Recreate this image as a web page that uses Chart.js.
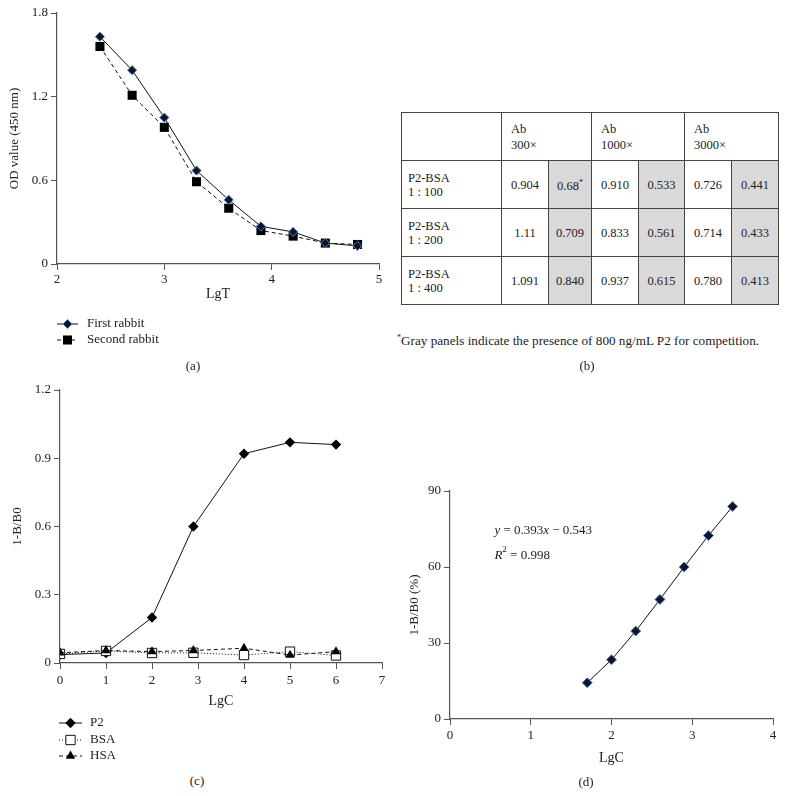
<!DOCTYPE html>
<html>
<head>
<meta charset="utf-8">
<script src="https://cdn.jsdelivr.net/npm/chart.js@4/dist/chart.umd.min.js"></script>
<style>
  body { margin: 0; background: #fff; width: 786px; height: 796px; position: relative; overflow: hidden;
         font-family: "Liberation Serif", "DejaVu Serif", serif; color: #222; }
  canvas { position: absolute; }
  .cap { position: absolute; font-size: 13px; transform: translate(-50%, -50%); white-space: nowrap; }
  #tbl { position: absolute; left: 401px; top: 112px; border-collapse: collapse; table-layout: fixed; font-size: 12.5px; }
  #tbl td { border: 1px solid #444; height: 47px; padding: 0; text-align: center; vertical-align: middle; line-height: 14px; }
  #tbl td.hd { text-align: left; padding-left: 9px; line-height: 16px; }
  #tbl td.rl { text-align: left; padding-left: 6px; }
  #tbl td.gray { background: #d9d9d9; }
  #note { position: absolute; left: 397px; top: 333px; font-size: 13.2px; white-space: nowrap; }
  sup { font-size: 8px; }
</style>
</head>
<body>
<canvas id="chartA" width="390" height="360" style="left:0;top:0"></canvas>
<canvas id="chartC" width="390" height="395" style="left:0;top:375px"></canvas>
<canvas id="chartD" width="396" height="305" style="left:390px;top:470px"></canvas>
<table id="tbl"></table>
<div id="note"><sup>*</sup>Gray panels indicate the presence of 800 ng/mL P2 for competition.</div>
<div class="cap" style="left:193px;top:366px">(a)</div>
<div class="cap" style="left:587px;top:366px">(b)</div>
<div class="cap" style="left:197px;top:781px">(c)</div>
<div class="cap" style="left:586px;top:782px">(d)</div>
<script>
// (a) titer curves
const lgT = [2.4, 2.7, 3.0, 3.3, 3.6, 3.9, 4.2, 4.5, 4.8];
const firstRabbit = [1.63, 1.39, 1.05, 0.67, 0.46, 0.27, 0.23, 0.15, 0.13];
const secondRabbit = [1.56, 1.21, 0.98, 0.59, 0.40, 0.24, 0.20, 0.15, 0.14];

// (c) specificity
const lgC = [0, 1, 2, 2.9, 4, 5, 6];
const p2 = [0.037, 0.044, 0.20, 0.60, 0.92, 0.97, 0.96];
const bsa = [0.04, 0.053, 0.044, 0.045, 0.035, 0.05, 0.033];
const hsa = [0.045, 0.055, 0.05, 0.055, 0.065, 0.035, 0.05];

// (d) standard curve
const stdLgC = [1.7, 2.0, 2.3, 2.6, 2.9, 3.2, 3.5];
const stdInhib = [14.3, 23.4, 34.7, 47.2, 60.0, 72.4, 83.9];

// (b) table
const abDilutions = ['300×', '1000×', '3000×'];
const coatRatios = ['1 : 100', '1 : 200', '1 : 400'];
const tableVals = [
  ['0.904', '0.68*', '0.910', '0.533', '0.726', '0.441'],
  ['1.11', '0.709', '0.833', '0.561', '0.714', '0.433'],
  ['1.091', '0.840', '0.937', '0.615', '0.780', '0.413'],
];

const FONT = '"Liberation Serif", "DejaVu Serif", serif';
const axisColor = '#555';
const diamondFill = '#0b1530';
const diamondEdge = '#5a7fb5';

function buildTable() {
  const widths = [100, 47, 43, 47, 46, 47, 47];
  let html = '<colgroup>' + widths.map(w => `<col style="width:${w}px">`).join('') + '</colgroup>';
  html += '<tr><td></td>' + abDilutions.map(d => `<td class="hd" colspan="2">Ab<br>${d}</td>`).join('') + '</tr>';
  tableVals.forEach((row, i) => {
    html += `<tr><td class="rl">P2-BSA<br>${coatRatios[i]}</td>`;
    row.forEach((v, j) => {
      const txt = v.replace('*', '<sup>*</sup>');
      html += `<td class="${j % 2 ? 'gray' : ''}">${txt}</td>`;
    });
    html += '</tr>';
  });
  document.getElementById('tbl').innerHTML = html;
}
buildTable();

const pts = (xs, ys) => xs.map((x, i) => ({ x, y: ys[i] }));

function xAxis(min, max, height, tickPad, titlePad, title) {
  return {
    type: 'linear', min, max,
    afterFit: (s) => { s.height = height; },
    ticks: { stepSize: 1, color: '#222', font: { family: FONT, size: 13 }, padding: tickPad },
    grid: { drawOnChartArea: false, tickLength: 6, color: axisColor, tickColor: axisColor },
    border: { color: axisColor, width: 1.2 },
    title: { display: true, text: title, color: '#222', font: { family: FONT, size: 14 }, padding: { top: 0, bottom: titlePad } },
  };
}

function yAxis(min, max, step, width, titlePad, title) {
  return {
    type: 'linear', min, max,
    afterFit: (s) => { s.width = width; },
    ticks: { stepSize: step, color: '#222', font: { family: FONT, size: 13 }, padding: 3,
             callback: (v) => String(Math.round(v * 10) / 10) },
    grid: { drawOnChartArea: false, tickLength: 6, color: axisColor, tickColor: axisColor },
    border: { color: axisColor, width: 1.2 },
    title: { display: true, text: title, color: '#222', font: { family: FONT, size: 13 }, padding: { top: titlePad, bottom: 0 } },
  };
}

// legend with a short line and marker, like the figure
const lineLegend = {
  id: 'lineLegend',
  afterDraw(chart, args, opts) {
    if (!opts.rows) return;
    const ctx = chart.ctx;
    chart.data.datasets.forEach((ds, i) => {
      const y = opts.rows[i];
      ctx.save();
      ctx.strokeStyle = '#111';
      ctx.lineWidth = 1;
      ctx.setLineDash(ds.borderDash || []);
      ctx.beginPath();
      ctx.moveTo(opts.x, y);
      ctx.lineTo(opts.x + opts.w, y);
      ctx.stroke();
      ctx.setLineDash([]);
      ctx.fillStyle = ds.pointBackgroundColor;
      ctx.strokeStyle = ds.pointBorderColor;
      ctx.lineWidth = ds.pointBorderWidth;
      Chart.helpers.drawPoint(ctx, { pointStyle: ds.pointStyle, radius: ds.pointRadius, rotation: 0, borderWidth: ds.pointBorderWidth },
        opts.x + opts.w / 2, y);
      ctx.fillStyle = '#222';
      ctx.font = '13px ' + FONT;
      ctx.textBaseline = 'middle';
      ctx.fillText(ds.label, opts.textX, y);
      ctx.restore();
    });
  }
};

// regression equation on panel (d)
const equation = {
  id: 'equation',
  afterDraw(chart, args, opts) {
    if (!opts.at) return;
    const ctx = chart.ctx;
    const x0 = chart.scales.x.getPixelForValue(opts.at[0]);
    const y1 = chart.scales.y.getPixelForValue(opts.at[1]);
    const y2 = chart.scales.y.getPixelForValue(opts.at[2]);
    const normal = '13px ' + FONT, italic = 'italic 13px ' + FONT;
    ctx.save();
    ctx.fillStyle = '#222';
    ctx.textBaseline = 'middle';
    const runs = (parts, y) => {
      let x = x0;
      parts.forEach(([t, f, dy]) => {
        ctx.font = f;
        ctx.fillText(t, x, y + (dy || 0));
        x += ctx.measureText(t).width;
      });
    };
    runs([['y', italic], [' = 0.393', normal], ['x', italic], [' − 0.543', normal]], y1);
    runs([['R', italic], ['2', '9px ' + FONT, -5], [' = 0.998', normal]], y2);
    ctx.restore();
  }
};

Chart.register(lineLegend, equation);

const common = {
  responsive: false,
  animation: false,
  events: [],
};

new Chart(document.getElementById('chartA'), {
  type: 'scatter',
  data: {
    datasets: [
      { label: 'First rabbit', data: pts(lgT, firstRabbit), showLine: true, borderColor: '#111', borderWidth: 1,
        pointStyle: 'rectRot', pointRadius: 4.6, pointBackgroundColor: diamondFill, pointBorderColor: diamondEdge, pointBorderWidth: 1 },
      { label: 'Second rabbit', data: pts(lgT, secondRabbit), showLine: true, borderColor: '#111', borderWidth: 1, borderDash: [4, 3],
        pointStyle: 'rect', pointRadius: 6.4, pointBackgroundColor: '#000', pointBorderColor: '#000', pointBorderWidth: 0 },
    ]
  },
  options: {
    ...common,
    layout: { padding: { left: 0, right: 11, top: 13, bottom: 54 } },
    scales: {
      x: xAxis(2, 5, 42, 2, 3, 'LgT'),
      y: yAxis(0, 1.8, 0.6, 57, 7, 'OD value (450 nm)'),
    },
    plugins: { legend: { display: false }, tooltip: { enabled: false },
               lineLegend: { x: 57, w: 21, textX: 87, rows: [324, 340] } },
  }
});

new Chart(document.getElementById('chartC'), {
  type: 'scatter',
  data: {
    datasets: [
      { label: 'P2', data: pts(lgC, p2), showLine: true, borderColor: '#111', borderWidth: 1, order: 3,
        pointStyle: 'rectRot', pointRadius: 5.2, pointBackgroundColor: '#000', pointBorderColor: '#000', pointBorderWidth: 0 },
      { label: 'BSA', data: pts(lgC, bsa), showLine: true, borderColor: '#111', borderWidth: 1, borderDash: [1, 2], order: 2,
        pointStyle: 'rect', pointRadius: 6.6, pointBackgroundColor: '#fff', pointBorderColor: '#111', pointBorderWidth: 1 },
      { label: 'HSA', data: pts(lgC, hsa), showLine: true, borderColor: '#111', borderWidth: 1, borderDash: [4, 3], order: 1,
        pointStyle: 'triangle', pointRadius: 5.4, pointBackgroundColor: '#000', pointBorderColor: '#000', pointBorderWidth: 0 },
    ]
  },
  options: {
    ...common,
    layout: { padding: { left: 0, right: 8, top: 15, bottom: 59 } },
    scales: {
      x: xAxis(0, 7, 48, 4, 1.5, 'LgC'),
      y: yAxis(0, 1.2, 0.3, 60, 10, '1-B/B0'),
    },
    plugins: { legend: { display: false }, tooltip: { enabled: false },
               lineLegend: { x: 59, w: 23, textX: 90, rows: [348, 365, 381] } },
  }
});

new Chart(document.getElementById('chartD'), {
  type: 'scatter',
  data: {
    datasets: [
      { label: 'Standard', data: pts(stdLgC, stdInhib), showLine: true, borderColor: '#111', borderWidth: 1,
        pointStyle: 'rectRot', pointRadius: 5, pointBackgroundColor: diamondFill, pointBorderColor: diamondEdge, pointBorderWidth: 1 },
    ]
  },
  options: {
    ...common,
    layout: { padding: { left: 0, right: 13, top: 21, bottom: 6 } },
    scales: {
      x: xAxis(0, 4, 50, 3, 2, 'LgC'),
      y: yAxis(0, 90, 30, 60, 17, '1-B/B0 (%)'),
    },
    plugins: { legend: { display: false }, tooltip: { enabled: false },
               equation: { at: [0.55, 74.5, 64.7] } },
  }
});
</script>
</body>
</html>
